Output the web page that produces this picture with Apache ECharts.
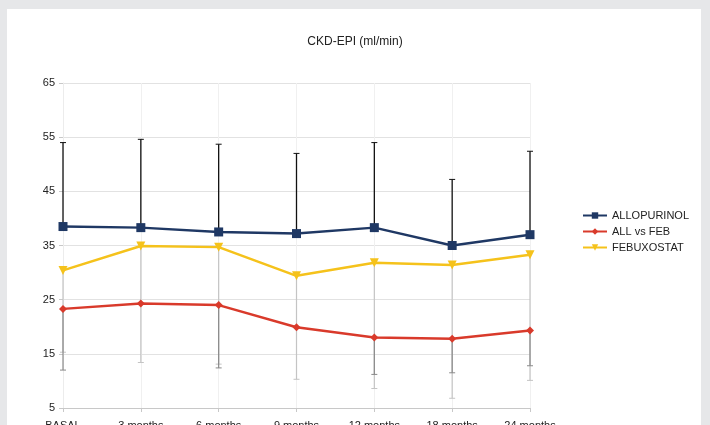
<!DOCTYPE html>
<html>
<head>
<meta charset="utf-8">
<script src="https://cdn.jsdelivr.net/npm/echarts@6/dist/echarts.min.js"></script>
<style>
html, body { margin: 0; padding: 0; background: #e6e7e9; overflow: hidden; }
#chart { width: 710px; height: 425px; }
</style>
</head>
<body>
<div id="chart"></div>
<script>
// categories and series values
var categories = ['BASAL', '3 months', '6 months', '9 months', '12 months', '18 months', '24 months'];
var allopurinol = [38.5, 38.3, 37.5, 37.2, 38.3, 35.0, 37.0];
var allVsFeb = [23.3, 24.3, 24.0, 19.9, 18.0, 17.8, 19.3];
var febuxostat = [30.4, 34.9, 34.7, 29.4, 31.8, 31.4, 33.3];
// error bar ends
var allopurinolUpper = [54.0, 54.6, 53.7, 52.0, 54.0, 47.2, 52.4];
var febuxostatLower = [15.3, 13.4, 13.1, 10.3, 8.6, 6.8, 10.1];
var allVsFebLower = [12.0, null, 12.4, null, 11.2, 11.5, 12.8];

function errData(base, ends) {
    var out = [];
    ends.forEach(function (v, i) {
        if (v != null) out.push([i, base[i], v]);
    });
    return out;
}

function errorBar(color, width, cap) {
    return function (params, api) {
        var p1 = api.coord([api.value(0), api.value(1)]);
        var p2 = api.coord([api.value(0), api.value(2)]);
        var st = { stroke: color, lineWidth: width };
        var children = [
            { type: 'line', shape: { x1: p1[0], y1: p1[1], x2: p2[0], y2: p2[1] }, style: st }
        ];
        if (cap) {
            children.push({ type: 'line', shape: { x1: p2[0] - 3, y1: p2[1], x2: p2[0] + 3, y2: p2[1] }, style: { stroke: color, lineWidth: 1 } });
        }
        return { type: 'group', children: children };
    };
}

var chart = echarts.init(document.getElementById('chart'));
var option = {
    backgroundColor: '#e6e7e9',
    animation: false,
    graphic: [{
        type: 'rect', z: -10, silent: true,
        shape: { x: 7, y: 9, width: 694, height: 420 },
        style: { fill: '#ffffff' }
    }],
    title: {
        text: 'CKD-EPI (ml/min)',
        left: 'center',
        top: 31,
        textStyle: { fontFamily: 'Liberation Sans', fontSize: 12, fontWeight: 'normal', color: '#222' }
    },
    legend: {
        orient: 'vertical',
        left: 577,
        top: 205,
        itemWidth: 24,
        itemHeight: 8,
        itemGap: 5,
        textStyle: { fontFamily: 'Liberation Sans', fontSize: 11, color: '#222' },
        data: ['ALLOPURINOL', 'ALL vs FEB', 'FEBUXOSTAT']
    },
    grid: { left: 63, right: 180, top: 83, bottom: 17, outerBoundsMode: 'none', containLabel: false },
    xAxis: {
        type: 'category',
        data: categories,
        boundaryGap: false,
        axisLine: { lineStyle: { color: '#c8c8c8' } },
        axisTick: { show: true, length: 4, lineStyle: { color: '#c8c8c8' } },
        axisLabel: { fontFamily: 'Liberation Sans', fontSize: 11, color: '#222', margin: 12, interval: 0 },
        splitLine: { show: true, lineStyle: { color: '#f0f0f0' } }
    },
    yAxis: {
        type: 'value',
        min: 5,
        max: 65,
        interval: 10,
        axisLine: { show: true, lineStyle: { color: '#ececec' } },
        axisTick: { show: true, length: 4, lineStyle: { color: '#c8c8c8' } },
        axisLabel: { fontFamily: 'Liberation Sans', fontSize: 11, color: '#222', margin: 8 },
        splitLine: { lineStyle: { color: '#e2e2e2' } }
    },
    series: [
        {
            name: 'ALLOPURINOL upper', type: 'custom', z: 1, silent: true,
            renderItem: errorBar('#111111', 1.3, true),
            data: errData(allopurinol, allopurinolUpper)
        },
        {
            name: 'FEBUXOSTAT lower', type: 'custom', z: 1, silent: true,
            renderItem: errorBar('#c4c4c4', 1.2, true),
            data: errData(febuxostat, febuxostatLower)
        },
        {
            name: 'ALL vs FEB lower', type: 'custom', z: 1, silent: true,
            renderItem: errorBar('#8a8a8a', 1.2, true),
            data: errData(allVsFeb, allVsFebLower)
        },
        {
            name: 'ALLOPURINOL', type: 'line', z: 3,
            data: allopurinol,
            symbol: 'rect', symbolSize: 9,
            itemStyle: { color: '#1f3864' },
            lineStyle: { color: '#1f3864', width: 2.5 }
        },
        {
            name: 'ALL vs FEB', type: 'line', z: 3,
            data: allVsFeb,
            symbol: 'diamond', symbolSize: 8,
            itemStyle: { color: '#d93a2b' },
            lineStyle: { color: '#d93a2b', width: 2.5 }
        },
        {
            name: 'FEBUXOSTAT', type: 'line', z: 3,
            data: febuxostat,
            symbol: 'triangle', symbolRotate: 180, symbolSize: 9,
            itemStyle: { color: '#f5c21b' },
            lineStyle: { color: '#f5c21b', width: 2.5 }
        }
    ]
};
chart.setOption(option);
</script>
</body>
</html>
